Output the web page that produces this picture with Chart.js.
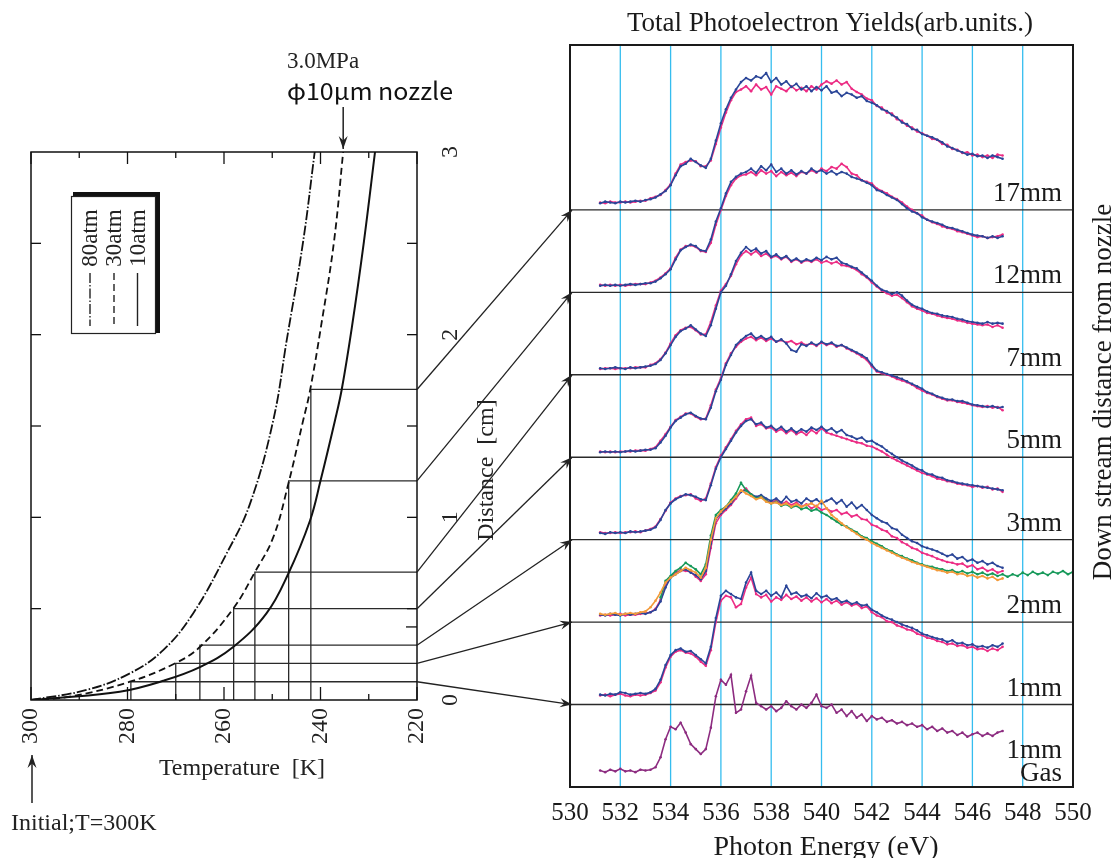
<!DOCTYPE html>
<html><head><meta charset="utf-8">
<script src="https://cdn.jsdelivr.net/npm/chart.js@4.4.1/dist/chart.umd.min.js"></script>
<style>
html,body{margin:0;padding:0;background:#fff;}
#wrap{position:relative;width:1120px;height:858px;overflow:hidden;background:#fff;}
canvas{position:absolute;left:0;top:0;}
</style></head><body>
<div id="wrap"><canvas id="left" width="1120" height="858"></canvas><canvas id="right" width="1120" height="858"></canvas></div>
<script>
// ---------------- LEFT CHART DATA ----------------
const tempLabels = [300, 280, 260, 240, 220];
const tempMinor = [290, 270, 250, 230];
const distLabels = [0, 1, 2, 3];
const distTicks = [0.5, 1, 1.5, 2, 2.5];
const distExtraRight = [0.4];
const curveNames = ['80atm', '30atm', '10atm'];
const temps80 = [300, 288.5, 279.5, 272.6, 266.4, 259.5, 254.6, 249.8, 247.0, 243.6, 241.2];
const dist80  = [0, 0.055, 0.146, 0.273, 0.474, 0.80, 1.075, 1.53, 1.97, 2.51, 3.0];
const temps30 = [300, 292, 279.5, 270.2, 265, 258.1, 253.6, 249.8, 246.7, 243.6, 242.2, 239.8, 237.2, 235.3];
const dist30  = [0, 0.018, 0.10, 0.20, 0.29, 0.50, 0.70, 0.89, 1.18, 1.53, 1.69, 2.06, 2.51, 3.0];
const temps10 = [300, 295.5, 281.6, 272.6, 265, 258.1, 251.2, 246.7, 242.2, 240.0, 237.0, 235.6, 233.5, 231.0, 228.7];
const dist10  = [0, 0.009, 0.045, 0.105, 0.18, 0.29, 0.474, 0.69, 0.98, 1.2, 1.53, 1.7, 2.04, 2.51, 3.0];
const stepTemps = [279.3, 270.0, 265.0, 258.0, 253.6, 246.6, 242.0];
const stepDist  = [0.1, 0.2, 0.3, 0.5, 0.7, 1.2, 1.7];
const stepPanel = [1, 2, 3, 4, 5, 6, 7];

// ---------------- RIGHT CHART DATA ----------------
const energyTicks = [530, 532, 534, 536, 538, 540, 542, 544, 546, 548, 550];
const panelLines = [1, 2, 3, 4, 5, 6, 7];
const panelLabels = ['1mm\nGas', '1mm', '2mm', '3mm', '5mm', '7mm', '12mm', '17mm'];
const energy = [531.2,531.4,531.6,531.8,532.0,532.2,532.4,532.6,532.8,533.0,
533.2,533.4,533.6,533.8,534.0,534.2,534.4,534.6,534.8,535.0,
535.2,535.4,535.6,535.8,536.0,536.2,536.4,536.6,536.8,537.0,
537.2,537.4,537.6,537.8,538.0,538.2,538.4,538.6,538.8,539.0,
539.2,539.4,539.6,539.8,540.0,540.2,540.4,540.6,540.8,541.0,
541.2,541.4,541.6,541.8,542.0,542.2,542.4,542.6,542.8,543.0,
543.2,543.4,543.6,543.8,544.0,544.2,544.4,544.6,544.8,545.0,
545.2,545.4,545.6,545.8,546.0,546.2,546.4,546.6,546.8,547.0,
547.2];
const energyTail = [547.4,547.6,547.8,548.0,548.2,548.4,548.6,548.8,549.0,549.2,549.4,549.6,549.8,550.0];

const gas1 = [0.20,0.18,0.21,0.19,0.22,0.19,0.20,0.18,0.21,0.20,
0.21,0.24,0.36,0.58,0.73,0.70,0.78,0.66,0.52,0.46,
0.40,0.46,0.72,1.10,1.30,1.24,1.36,0.90,0.94,1.16,
1.35,1.02,0.98,0.94,0.98,0.92,0.96,1.04,0.98,0.94,
1.00,0.96,1.02,1.12,0.98,0.96,1.00,0.90,0.94,0.86,
0.92,0.84,0.88,0.80,0.86,0.82,0.84,0.79,0.81,0.77,
0.79,0.75,0.77,0.73,0.75,0.70,0.73,0.68,0.71,0.66,
0.68,0.63,0.66,0.61,0.64,0.66,0.62,0.65,0.62,0.66,
0.68];
const blue1 = [0.12,0.11,0.13,0.12,0.15,0.14,0.12,0.13,0.14,0.13,
0.15,0.19,0.30,0.48,0.60,0.66,0.68,0.64,0.65,0.60,
0.55,0.50,0.70,1.05,1.32,1.38,1.34,1.30,1.28,1.48,
1.60,1.38,1.34,1.38,1.32,1.36,1.30,1.44,1.34,1.36,
1.31,1.33,1.29,1.35,1.30,1.32,1.27,1.29,1.24,1.26,
1.22,1.24,1.20,1.21,1.15,1.12,1.08,1.05,1.03,1.00,
0.97,0.95,0.93,0.90,0.86,0.84,0.82,0.80,0.79,0.76,
0.78,0.74,0.75,0.72,0.73,0.70,0.71,0.69,0.72,0.70,
0.74];
const pink1 = [0.11,0.12,0.10,0.12,0.13,0.11,0.10,0.12,0.11,0.12,
0.14,0.17,0.27,0.45,0.58,0.64,0.66,0.63,0.62,0.58,
0.52,0.47,0.66,1.00,1.26,1.32,1.30,1.18,1.22,1.42,
1.54,1.34,1.30,1.33,1.25,1.30,1.27,1.33,1.28,1.31,
1.26,1.30,1.25,1.29,1.24,1.28,1.23,1.26,1.21,1.24,
1.20,1.22,1.17,1.19,1.12,1.08,1.06,1.01,1.00,0.96,
0.94,0.91,0.90,0.86,0.84,0.81,0.80,0.77,0.76,0.73,
0.74,0.71,0.72,0.69,0.70,0.67,0.68,0.65,0.68,0.66,
0.70];
const blue2 = [0.09,0.08,0.10,0.09,0.08,0.10,0.09,0.10,0.11,0.10,
0.12,0.15,0.25,0.42,0.54,0.58,0.62,0.64,0.60,0.57,
0.52,0.62,0.95,1.25,1.32,1.38,1.44,1.52,1.58,1.60,
1.55,1.52,1.54,1.50,1.47,1.50,1.45,1.52,1.46,1.48,
1.44,1.50,1.46,1.49,1.44,1.47,1.50,1.44,1.48,1.40,
1.45,1.38,1.42,1.36,1.30,1.26,1.22,1.20,1.14,1.12,
1.06,1.02,0.98,0.96,0.92,0.90,0.88,0.86,0.83,0.80,
0.82,0.77,0.79,0.74,0.76,0.72,0.74,0.70,0.72,0.68,
0.66];
const pink2 = [0.08,0.09,0.08,0.09,0.10,0.08,0.09,0.09,0.10,0.11,
0.12,0.16,0.27,0.44,0.55,0.60,0.63,0.62,0.61,0.55,
0.50,0.58,0.90,1.20,1.30,1.36,1.42,1.50,1.58,1.62,
1.55,1.50,1.52,1.48,1.45,1.48,1.43,1.46,1.42,1.45,
1.40,1.43,1.38,1.41,1.36,1.38,1.34,1.36,1.31,1.33,
1.28,1.30,1.25,1.24,1.18,1.16,1.12,1.10,1.04,1.02,
0.97,0.94,0.90,0.88,0.84,0.82,0.80,0.77,0.75,0.73,
0.72,0.70,0.71,0.67,0.69,0.64,0.66,0.62,0.64,0.60,
0.62];
const green2 = [null,null,null,null,null,null,null,null,null,null,
null,null,0.30,0.50,0.56,0.62,0.66,0.72,0.68,0.64,
0.58,0.70,1.05,1.30,1.36,1.40,1.48,1.56,1.69,1.60,
1.55,1.50,1.52,1.47,1.44,1.46,1.41,1.43,1.39,1.41,
1.37,1.39,1.35,1.37,1.33,1.30,1.26,1.22,1.18,1.16,
1.12,1.09,1.04,1.02,0.98,0.95,0.92,0.88,0.86,0.82,
0.80,0.77,0.75,0.72,0.70,0.68,0.67,0.65,0.64,0.62,
0.63,0.60,0.62,0.59,0.61,0.58,0.60,0.57,0.59,0.56,
0.58];
const green2Tail = [0.55,0.58,0.56,0.60,0.57,0.61,0.58,0.60,0.57,0.61,0.59,0.62,0.58,0.61];
const orange2 = [0.10,0.09,0.10,0.11,0.09,0.10,0.11,0.10,0.12,0.13,
0.18,0.26,0.36,0.48,0.54,0.58,0.62,0.66,0.63,0.60,
0.54,0.66,1.00,1.26,1.34,1.40,1.46,1.52,1.60,1.56,
1.53,1.49,1.51,1.46,1.44,1.45,1.42,1.44,1.40,1.43,
1.40,1.42,1.44,1.40,1.47,1.38,1.30,1.25,1.20,1.15,
1.11,1.07,1.03,1.00,0.96,0.93,0.90,0.87,0.84,0.81,
0.78,0.76,0.73,0.71,0.69,0.67,0.65,0.63,0.62,0.60,
0.61,0.58,0.59,0.56,0.57,0.54,0.56,0.53,0.55,0.51,
0.53];
const blue3 = [0.08,0.07,0.09,0.08,0.09,0.08,0.10,0.09,0.10,0.11,
0.12,0.15,0.24,0.36,0.44,0.49,0.52,0.55,0.54,0.52,
0.49,0.48,0.66,0.86,1.00,1.10,1.20,1.30,1.38,1.44,
1.46,1.40,1.42,1.36,1.38,1.33,1.37,1.31,1.35,1.30,
1.34,1.31,1.36,1.33,1.37,1.32,1.35,1.30,1.33,1.27,
1.25,1.22,1.24,1.19,1.20,1.16,1.13,1.08,1.04,1.00,
0.96,0.93,0.90,0.86,0.84,0.80,0.79,0.76,0.75,0.72,
0.71,0.69,0.68,0.67,0.66,0.65,0.64,0.63,0.62,0.61,
0.60];
const pink3 = [0.09,0.08,0.08,0.09,0.08,0.09,0.09,0.10,0.09,0.11,
0.13,0.16,0.25,0.35,0.45,0.50,0.53,0.54,0.55,0.50,
0.47,0.50,0.68,0.88,1.02,1.12,1.22,1.32,1.40,1.46,
1.48,1.38,1.40,1.35,1.36,1.31,1.34,1.29,1.33,1.28,
1.31,1.27,1.33,1.29,1.35,1.30,1.28,1.26,1.24,1.22,
1.20,1.18,1.17,1.14,1.13,1.10,1.07,1.03,0.99,0.96,
0.93,0.90,0.87,0.84,0.81,0.79,0.77,0.74,0.73,0.71,
0.70,0.68,0.67,0.66,0.64,0.65,0.63,0.64,0.61,0.62,
0.58];
const blue5 = [0.06,0.07,0.06,0.07,0.06,0.07,0.08,0.07,0.08,0.09,
0.09,0.11,0.18,0.26,0.36,0.44,0.48,0.52,0.54,0.50,
0.47,0.46,0.60,0.80,0.94,1.12,1.24,1.36,1.42,1.47,
1.50,1.44,1.47,1.43,1.46,1.40,1.43,1.38,1.30,1.28,
1.37,1.35,1.39,1.36,1.40,1.37,1.39,1.35,1.36,1.33,
1.30,1.27,1.24,1.20,1.12,1.05,1.03,1.01,0.99,0.97,
0.95,0.92,0.89,0.86,0.83,0.79,0.77,0.74,0.72,0.70,
0.70,0.68,0.68,0.66,0.64,0.63,0.62,0.61,0.62,0.60,
0.61];
const pink5 = [0.07,0.06,0.07,0.06,0.07,0.07,0.07,0.08,0.08,0.08,
0.10,0.12,0.20,0.28,0.37,0.45,0.49,0.53,0.53,0.49,
0.46,0.47,0.63,0.82,0.96,1.14,1.26,1.34,1.40,1.44,
1.46,1.42,1.45,1.41,1.44,1.40,1.42,1.39,1.41,1.37,
1.39,1.36,1.38,1.35,1.39,1.36,1.38,1.34,1.36,1.32,
1.29,1.26,1.22,1.18,1.10,1.04,1.02,1.00,0.98,0.95,
0.93,0.91,0.88,0.84,0.81,0.78,0.76,0.73,0.71,0.69,
0.69,0.67,0.66,0.65,0.63,0.62,0.61,0.62,0.60,0.61,
0.57];
const blue7 = [0.08,0.07,0.08,0.09,0.08,0.07,0.09,0.08,0.09,0.10,
0.11,0.13,0.18,0.26,0.36,0.46,0.53,0.56,0.60,0.55,
0.50,0.47,0.60,0.80,1.00,1.08,1.22,1.38,1.48,1.55,
1.50,1.53,1.47,1.50,1.43,1.46,1.41,1.44,1.38,1.41,
1.37,1.40,1.38,1.42,1.39,1.43,1.40,1.42,1.36,1.34,
1.31,1.29,1.24,1.19,1.14,1.08,1.03,1.01,0.98,1.00,
0.96,0.90,0.85,0.82,0.80,0.77,0.75,0.74,0.72,0.71,
0.70,0.68,0.67,0.65,0.64,0.63,0.62,0.64,0.62,0.63,
0.62];
const pink7 = [0.07,0.08,0.08,0.07,0.08,0.08,0.08,0.09,0.09,0.09,
0.12,0.14,0.19,0.27,0.38,0.48,0.54,0.57,0.58,0.54,
0.49,0.49,0.64,0.84,1.02,1.10,1.20,1.34,1.45,1.50,
1.46,1.50,1.44,1.47,1.42,1.44,1.40,1.43,1.37,1.40,
1.36,1.39,1.37,1.40,1.36,1.38,1.35,1.37,1.33,1.32,
1.30,1.27,1.22,1.18,1.12,1.07,1.02,0.99,0.96,0.97,
0.93,0.88,0.83,0.80,0.78,0.75,0.74,0.72,0.70,0.69,
0.68,0.66,0.65,0.63,0.62,0.61,0.60,0.61,0.58,0.60,
0.57];
const blue12 = [0.08,0.09,0.08,0.09,0.08,0.09,0.10,0.09,0.10,0.11,
0.11,0.13,0.17,0.22,0.28,0.40,0.51,0.55,0.58,0.56,
0.51,0.50,0.64,0.86,1.02,1.20,1.34,1.40,1.44,1.46,
1.50,1.45,1.53,1.48,1.55,1.46,1.50,1.44,1.48,1.43,
1.47,1.44,1.50,1.46,1.48,1.44,1.47,1.43,1.46,1.44,
1.40,1.38,1.36,1.33,1.30,1.24,1.22,1.18,1.15,1.12,
1.07,1.02,0.98,0.96,0.91,0.88,0.86,0.84,0.82,0.79,
0.78,0.76,0.74,0.72,0.70,0.69,0.68,0.66,0.68,0.66,
0.68];
const pink12 = [0.09,0.08,0.09,0.08,0.09,0.08,0.09,0.10,0.10,0.10,
0.12,0.14,0.18,0.23,0.29,0.42,0.52,0.56,0.57,0.55,
0.50,0.49,0.60,0.82,1.00,1.17,1.30,1.38,1.42,1.43,
1.46,1.42,1.48,1.44,1.47,1.41,1.46,1.42,1.45,1.41,
1.46,1.44,1.48,1.45,1.50,1.47,1.52,1.50,1.56,1.52,
1.44,1.42,1.36,1.34,1.32,1.26,1.23,1.20,1.16,1.13,
1.09,1.04,1.00,0.96,0.93,0.88,0.85,0.83,0.80,0.78,
0.77,0.74,0.73,0.71,0.69,0.67,0.68,0.66,0.67,0.68,
0.70];
const blue17 = [0.08,0.10,0.09,0.08,0.10,0.09,0.10,0.11,0.10,0.12,
0.13,0.15,0.19,0.23,0.30,0.42,0.53,0.56,0.62,0.58,
0.54,0.51,0.62,0.84,1.05,1.22,1.36,1.46,1.55,1.60,
1.57,1.62,1.60,1.66,1.55,1.60,1.52,1.56,1.49,1.53,
1.46,1.50,1.44,1.49,1.45,1.50,1.42,1.44,1.38,1.42,
1.40,1.36,1.38,1.32,1.30,1.27,1.22,1.20,1.15,1.12,
1.06,1.04,0.98,0.97,0.92,0.90,0.88,0.85,0.82,0.77,
0.75,0.72,0.70,0.67,0.68,0.65,0.66,0.63,0.66,0.64,
0.62];
const pink17 = [0.09,0.08,0.10,0.09,0.09,0.10,0.09,0.10,0.11,0.11,
0.14,0.16,0.18,0.24,0.31,0.44,0.55,0.58,0.60,0.59,
0.53,0.53,0.60,0.80,1.00,1.18,1.33,1.43,1.46,1.50,
1.44,1.52,1.46,1.49,1.40,1.50,1.47,1.44,1.50,1.45,
1.48,1.44,1.50,1.46,1.52,1.56,1.53,1.57,1.52,1.55,
1.47,1.43,1.40,1.35,1.33,1.26,1.24,1.18,1.17,1.10,
1.08,1.02,1.00,0.95,0.93,0.90,0.86,0.85,0.80,0.79,
0.74,0.73,0.69,0.70,0.66,0.67,0.64,0.66,0.63,0.67,
0.66];

const BLUE = '#2b4698', PINK = '#ec2c84', GREEN = '#17995a', ORANGE = '#f39a3a', PURPLE = '#8d2c80', CYAN = '#35bdef';
const series = [
  { values: gas1, panel: 0, color: PURPLE },
  { values: blue1, panel: 1, color: BLUE },
  { values: pink1, panel: 1, color: PINK },
  { values: orange2, panel: 2, color: ORANGE },
  { values: green2, tail: green2Tail, panel: 2, color: GREEN },
  { values: blue2, panel: 2, color: BLUE },
  { values: pink2, panel: 2, color: PINK },
  { values: blue3, panel: 3, color: BLUE },
  { values: pink3, panel: 3, color: PINK },
  { values: blue5, panel: 4, color: BLUE },
  { values: pink5, panel: 4, color: PINK },
  { values: blue7, panel: 5, color: BLUE },
  { values: pink7, panel: 5, color: PINK },
  { values: blue12, panel: 6, color: BLUE },
  { values: pink12, panel: 6, color: PINK },
  { values: blue17, panel: 7, color: BLUE },
  { values: pink17, panel: 7, color: PINK }
];

// ---------------- HELPERS ----------------
const SERIF = "'Liberation Serif','Times New Roman',serif";
function pts(xs, ys) { return xs.map((v, i) => ({ x: v, y: ys[i] })); }
function seg(ctx, x1, y1, x2, y2) { ctx.beginPath(); ctx.moveTo(x1, y1); ctx.lineTo(x2, y2); ctx.stroke(); }
function vtext(ctx, s, x, y, align) {
  ctx.save(); ctx.translate(x, y); ctx.rotate(-Math.PI / 2);
  ctx.textAlign = align || 'center'; ctx.textBaseline = 'middle';
  ctx.fillText(s, 0, 0); ctx.restore();
}
function arrowHead(ctx, x1, y1, x2, y2, L, W) {
  const a = Math.atan2(y2 - y1, x2 - x1), c = Math.cos(a), s = Math.sin(a);
  ctx.beginPath(); ctx.moveTo(x2, y2);
  ctx.lineTo(x2 - L * c + W * s, y2 - L * s - W * c);
  ctx.lineTo(x2 - 0.65 * L * c, y2 - 0.65 * L * s);
  ctx.lineTo(x2 - L * c - W * s, y2 - L * s + W * c);
  ctx.closePath(); ctx.fill();
}
function arrow(ctx, x1, y1, x2, y2, L, W) { seg(ctx, x1, y1, x2, y2); arrowHead(ctx, x1, y1, x2, y2, L, W); }

const curveStyles = [
  { dash: [10, 2, 1.5, 2], w: 1.8 },
  { dash: [7, 4], w: 1.8 },
  { dash: [], w: 2.0 }
];

// ---------------- LEFT CHART ----------------
const leftDecor = {
  id: 'leftDecor',
  afterDatasetsDraw(chart) {
    const { ctx, chartArea: a, scales: { x, y } } = chart;
    ctx.save();
    ctx.strokeStyle = '#111'; ctx.fillStyle = '#111'; ctx.lineWidth = 1.5; ctx.setLineDash([]);
    ctx.strokeRect(a.left, a.top, a.right - a.left, a.bottom - a.top);
    ctx.lineWidth = 1.3;
    tempLabels.forEach(t => { const px = x.getPixelForValue(t); seg(ctx, px, a.bottom, px, a.bottom - 13); seg(ctx, px, a.top, px, a.top + 12); });
    tempMinor.forEach(t => { const px = x.getPixelForValue(t); seg(ctx, px, a.bottom, px, a.bottom - 6); seg(ctx, px, a.top, px, a.top + 6); });
    distTicks.forEach(d => { const py = y.getPixelForValue(d); seg(ctx, a.left, py, a.left + 10, py); seg(ctx, a.right, py, a.right - 10, py); });
    distExtraRight.forEach(d => { const py = y.getPixelForValue(d); seg(ctx, a.right, py, a.right - 11, py); });
    // tick labels
    ctx.fillStyle = '#222';
    ctx.font = '24px ' + SERIF;
    tempLabels.forEach(t => vtext(ctx, String(t), x.getPixelForValue(t), a.bottom + 8, 'right'));
    distLabels.forEach(d => vtext(ctx, String(d), a.right + 34, y.getPixelForValue(d), 'center'));
    // axis titles
    ctx.textAlign = 'center'; ctx.textBaseline = 'alphabetic';
    ctx.fillText('Temperature  [K]', 242, 775);
    vtext(ctx, 'Distance  [cm]', a.right + 70, 470, 'center');
    // initial arrow + text
    ctx.font = '24px ' + SERIF; ctx.textAlign = 'left';
    ctx.fillText('Initial;T=300K', 11, 830);
    ctx.lineWidth = 1.4;
    const x300 = x.getPixelForValue(300) + 1;
    arrow(ctx, x300, 803, x300, 755, 13, 4.5);
    // nozzle annotation
    ctx.font = '23px ' + SERIF;
    ctx.textAlign = 'center';
    ctx.fillText('3.0MPa', 323, 68);
    const xTop = x.getPixelForValue(temps30[temps30.length - 1]);
    arrow(ctx, xTop, 107, xTop, a.top - 3, 13, 4.5);
    ctx.save();
    ctx.fillStyle = '#111';
    ctx.font = '23px "Noto Sans CJK JP", "DejaVu Sans", sans-serif';
    const s = 'φ10μm nozzle';
    const w = ctx.measureText(s).width;
    ctx.translate(287, 100); ctx.scale(166 / w, 1.05);
    ctx.textAlign = 'left'; ctx.fillText(s, 0, 0);
    ctx.restore();
    // legend box
    ctx.fillStyle = '#111';
    ctx.fillRect(73, 192, 87, 4.5);
    ctx.fillRect(155.5, 192, 4.5, 141);
    ctx.lineWidth = 1.2; ctx.strokeStyle = '#222';
    ctx.strokeRect(71.5, 196.5, 84, 137);
    const lx = [91, 115, 138.5];
    ctx.font = '23px ' + SERIF; ctx.fillStyle = '#222';
    curveNames.forEach((n, i) => {
      vtext(ctx, n, lx[i], 238, 'center');
      ctx.save(); ctx.lineWidth = 1.4; ctx.setLineDash(curveStyles[i].dash);
      seg(ctx, lx[i] - 1, 273, lx[i] - 1, 326); ctx.restore();
    });
    ctx.restore();
  }
};

const leftDatasets = [];
[[temps80, dist80], [temps30, dist30], [temps10, dist10]].forEach((c, i) => {
  leftDatasets.push({
    data: pts(c[0], c[1]), showLine: true, borderColor: '#111', borderWidth: curveStyles[i].w,
    borderDash: curveStyles[i].dash, pointRadius: 0, tension: 0.4, fill: false
  });
});
stepTemps.forEach((t, i) => {
  leftDatasets.push({
    data: [{ x: t, y: 0 }, { x: t, y: stepDist[i] }, { x: 220, y: stepDist[i] }],
    showLine: true, borderColor: '#2a2a2a', borderWidth: 1.3, pointRadius: 0, tension: 0, fill: false
  });
});

const leftChart = new Chart(document.getElementById('left'), {
  type: 'scatter',
  data: { datasets: leftDatasets },
  options: {
    responsive: false, animation: false, events: [],
    layout: { padding: { left: 31, right: 703, top: 152, bottom: 158 } },
    plugins: { legend: { display: false }, tooltip: { enabled: false } },
    scales: {
      x: { type: 'linear', reverse: true, min: 220, max: 300, display: false },
      y: { type: 'linear', min: 0, max: 3, display: false }
    }
  },
  plugins: [leftDecor]
});

// ---------------- RIGHT CHART ----------------
const rightDecor = {
  id: 'rightDecor',
  beforeDatasetsDraw(chart) {
    const { ctx, chartArea: a, scales: { x, y } } = chart;
    ctx.save();
    ctx.strokeStyle = CYAN; ctx.lineWidth = 1.3;
    energyTicks.slice(1, -1).forEach(e => { const px = x.getPixelForValue(e); seg(ctx, px, a.top, px, a.bottom); });
    ctx.strokeStyle = '#2a2a2a'; ctx.lineWidth = 1.4;
    panelLines.forEach(v => { const py = y.getPixelForValue(v); seg(ctx, a.left, py, a.right, py); });
    ctx.restore();
  },
  afterDatasetsDraw(chart) {
    const { ctx, chartArea: a, scales: { x, y } } = chart;
    ctx.save();
    ctx.strokeStyle = '#1a1a1a'; ctx.lineWidth = 2;
    ctx.strokeRect(a.left, a.top, a.right - a.left, a.bottom - a.top);
    ctx.fillStyle = '#1a1a1a';
    // panel labels
    ctx.font = '27px ' + SERIF; ctx.textAlign = 'right'; ctx.textBaseline = 'alphabetic';
    panelLabels.forEach((lab, k) => {
      const lines = lab.split('\n');
      const base = y.getPixelForValue(k) - (k === 0 ? 6 : 9);
      lines.forEach((ln, j) => ctx.fillText(ln, 1062, base - (lines.length - 1 - j) * 23));
    });
    // tick labels
    ctx.font = '25px ' + SERIF; ctx.textAlign = 'center';
    energyTicks.forEach(e => ctx.fillText(String(e), x.getPixelForValue(e), 820));
    ctx.font = '28px ' + SERIF;
    ctx.fillText('Photon Energy (eV)', 826, 855);
    ctx.font = '27px ' + SERIF;
    ctx.fillText('Total Photoelectron Yields(arb.units.)', 830, 31);
    ctx.font = '27px ' + SERIF;
    vtext(ctx, 'Down stream distance from nozzle', 1104, 392, 'center');
    // arrows from left chart
    const lx = leftChart.scales.x, ly = leftChart.scales.y;
    ctx.strokeStyle = '#222'; ctx.fillStyle = '#222'; ctx.lineWidth = 1.3;
    stepDist.forEach((d, i) => {
      arrow(ctx, lx.getPixelForValue(220), ly.getPixelForValue(d), a.left + 2, y.getPixelForValue(stepPanel[i]), 12, 4.5);
    });
    ctx.restore();
  }
};

const rightDatasets = series.map(s => {
  const data = energy.map((e, i) => ({ x: e, y: s.values[i] === null ? null : s.values[i] + s.panel }));
  if (s.tail) energyTail.forEach((e, i) => data.push({ x: e, y: s.tail[i] + s.panel }));
  return { data, showLine: true, borderColor: s.color, borderWidth: 1.6, pointRadius: 1.3, pointBorderWidth: 0,
           pointBackgroundColor: s.color, tension: 0, fill: false, spanGaps: false };
});

const rightChart = new Chart(document.getElementById('right'), {
  type: 'scatter',
  data: { datasets: rightDatasets },
  options: {
    responsive: false, animation: false, events: [],
    layout: { padding: { left: 570, right: 47, top: 45, bottom: 71 } },
    plugins: { legend: { display: false }, tooltip: { enabled: false } },
    scales: {
      x: { type: 'linear', min: 530, max: 550, display: false },
      y: { type: 'linear', min: 0, max: 9, display: false }
    }
  },
  plugins: [rightDecor]
});
</script></body></html>
